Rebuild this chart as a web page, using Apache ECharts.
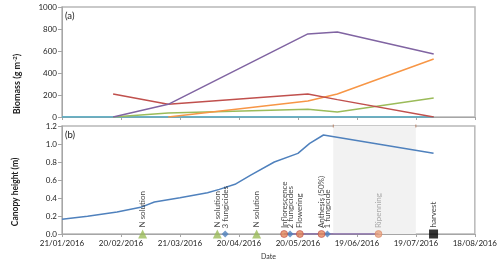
<!DOCTYPE html>
<html><head><meta charset="utf-8">
<script src="https://cdn.jsdelivr.net/npm/echarts@6/dist/echarts.min.js"></script>
<style>html,body{margin:0;padding:0;background:#fff}#c{width:500px;height:263px}</style>
</head><body><div id="c"></div>
<script>
// ---- data ----
const startDate = '2016-01-21';
const endDate = '2016-08-18';
const biomassDates = ['2016-02-16','2016-03-15','2016-05-25','2016-06-09','2016-07-28'];
const purpleVals = [0, 115, 755, 773, 573];
const redVals = [209, 115, 209, 158, 0];
const orangeDates = ['2016-03-15','2016-05-25','2016-06-09','2016-07-28'];
const orangeVals = [0, 145, 209, 527];
const greenVals = [0, 36, 70, 45, 173];
const tealDates = ['2016-01-21','2016-02-16','2016-03-15','2016-05-25','2016-06-09','2016-07-28'];
const tealVals = [0, 0, 0, 0, 0, 0];

const canopyDates = ['2016-01-21','2016-02-03','2016-02-18','2016-03-01','2016-03-08','2016-03-21','2016-04-04','2016-04-10','2016-04-18','2016-04-26','2016-05-08','2016-05-20','2016-05-26','2016-06-02','2016-07-28'];
const canopyVals = [0.165, 0.197, 0.244, 0.296, 0.355, 0.404, 0.459, 0.496, 0.552, 0.655, 0.80, 0.896, 1.007, 1.10, 0.896];

const nDates = ['2016-03-02','2016-04-09','2016-04-29'];
const nLabels = ['N solution','N solution','N solution'];
const fungDates = ['2016-04-13','2016-05-16','2016-06-04'];
const fungLabels = ['3 fungicides','2 fungicides','1 fungicide'];
const phenoDates = ['2016-05-13','2016-05-21','2016-06-01','2016-06-30'];
const phenoLabels = ['Inflorescence','Flowering','Anthesis (50%)','Ripenning'];
const harvestDates = ['2016-07-28'];
const harvestLabels = ['harvest'];
const shadeStart = '2016-06-07';
const shadeEnd = '2016-07-19';

const yTopTicks = {min:0, max:1000, interval:200};
const yBotTicks = {min:0, max:1.2, interval:0.2};

// ---- helpers ----
const DAY = 86400000;
const t0 = Date.parse(startDate + 'T00:00:00Z');
function dn(s){ return Math.round((Date.parse(s + 'T00:00:00Z') - t0)/DAY); }
function fmt(d){
  const dt = new Date(t0 + d*DAY);
  const p = n => (n<10?'0':'')+n;
  return p(dt.getUTCDate())+'/'+p(dt.getUTCMonth()+1)+'/'+dt.getUTCFullYear();
}
function pairs(ds, vs){ return ds.map((d,i)=>[dn(d), vs[i]]); }
const xMax = dn(endDate);

const FONT = 'Lato';
const axisGrey = '#a6a6a6';

function xAxisCfg(gi, showLabels){
  return {
    type:'value', gridIndex:gi, min:0, max:xMax, interval:30,
    axisLine:{show:true, lineStyle:{color:axisGrey, width:1}},
    axisTick:{show:true, inside:false, length:3, lineStyle:{color:axisGrey}},
    splitLine:{show:false},
    axisLabel:{show:showLabels, formatter:fmt, fontFamily:FONT, fontSize:8, color:'#222', margin:5},
    name: showLabels ? 'Date' : '', nameLocation:'middle', nameGap:19,
    nameTextStyle:{fontFamily:FONT, fontSize:7, color:'#333'}
  };
}
function yAxisCfg(gi, t, dec){
  return {
    type:'value', gridIndex:gi, min:t.min, max:t.max, interval:t.interval,
    axisLine:{show:true, lineStyle:{color:axisGrey, width:1}},
    axisTick:{show:true, inside:false, length:4, lineStyle:{color:axisGrey}},
    splitLine:{show:false},
    axisLabel:{fontFamily:FONT, fontSize:8, color:'#222', margin:5,
      formatter: v => dec ? v.toFixed(1) : String(v)}
  };
}
function bioLine(name, ds, vs, color){
  return {name, type:'line', xAxisIndex:0, yAxisIndex:0, data:pairs(ds,vs),
    showSymbol:false, symbol:'none', lineStyle:{color, width:1.5}, itemStyle:{color}, animation:false};
}
function markerSeries(ds, labels, symbol, size, color, border, labelColor){
  return {type:'scatter', xAxisIndex:1, yAxisIndex:1, z:5,
    data: ds.map((d,i)=>({value:[dn(d),0], name:labels[i]})),
    symbol, symbolSize:size,
    itemStyle:{color, borderColor:border, borderWidth: border ? 0.8 : 0},
    label:{show:true, formatter:'{b}', position:'top', distance:2, rotate:90,
      align:'left', verticalAlign:'middle', fontFamily:FONT, fontSize:8,
      color: labelColor},
    animation:false};
}

const chart = echarts.init(document.getElementById('c'), null, {renderer:'canvas'});
chart.setOption({
  animation:false,
  grid:[
    {left:62, top:7, width:413, height:110, show:true, borderColor:'#b8b8b8', borderWidth:1.5, backgroundColor:'transparent'},
    {left:62, top:126, width:413, height:108, show:true, borderColor:'#b8b8b8', borderWidth:1.5, backgroundColor:'transparent'}
  ],
  xAxis:[xAxisCfg(0,false), xAxisCfg(1,true)],
  yAxis:[yAxisCfg(0,yTopTicks,false), yAxisCfg(1,yBotTicks,true)],
  graphic:[
    {type:'text', left:65, top:11, style:{text:'(a)', font:'9.5px Lato', fill:'#222'}},
    {type:'text', left:65, top:130, style:{text:'(b)', font:'9.5px Lato', fill:'#222'}},
    {type:'text', x:17, y:84, rotation:Math.PI/2,
      style:{text:'{b|Biomass (g m}{s|-2}{b|)}', align:'center', verticalAlign:'middle',
        rich:{b:{fontFamily:FONT, fontWeight:'bold', fontSize:9, fill:'#222', verticalAlign:'bottom'},
              s:{fontFamily:FONT, fontWeight:'bold', fontSize:6, fill:'#222', verticalAlign:'top', padding:[0,0,4,0]}}}},
    {type:'text', x:15, y:192, rotation:Math.PI/2,
      style:{text:'Canopy height (m)', align:'center', verticalAlign:'middle',
        font:'bold 8.5px Lato', fill:'#222'}}
  ],
  series:[
    bioLine('teal', tealDates, tealVals, '#4bacc6'),
    bioLine('green', biomassDates, greenVals, '#9bbb59'),
    bioLine('orange', orangeDates, orangeVals, '#f79646'),
    bioLine('red', biomassDates, redVals, '#c0504d'),
    bioLine('purple', biomassDates, purpleVals, '#8064a2'),
    {type:'line', xAxisIndex:1, yAxisIndex:1, data:pairs(canopyDates, canopyVals),
      smooth:false, showSymbol:false, symbol:'none', lineStyle:{color:'#4f81bd', width:1.5}, z:3,
      markArea:{silent:true, itemStyle:{color:'#f2f2f2'}, data:[[{xAxis:dn(shadeStart)},{xAxis:dn(shadeEnd)}]]}},
    {type:'line', xAxisIndex:1, yAxisIndex:1, data:phenoDates.map(d=>[dn(d),0]),
      showSymbol:false, symbol:'none', lineStyle:{color:'#8064a2', width:1.5}, z:4},
    {type:'scatter', xAxisIndex:1, yAxisIndex:1, data:[[dn(shadeStart),yBotTicks.max],[dn(shadeEnd),yBotTicks.max]],
      symbol:'rect', symbolSize:[1,3], itemStyle:{color:'#b07050'}, z:6},
    markerSeries(nDates, nLabels, 'triangle', 9, '#9bbb59', null, '#111'),
    markerSeries(fungDates, fungLabels, 'diamond', 7, '#4f81bd', null, '#111'),
    markerSeries(phenoDates.slice(0,3), phenoLabels.slice(0,3), 'circle', 7, '#e2865a', '#c0504d', '#111'),
    markerSeries(phenoDates.slice(3), phenoLabels.slice(3), 'circle', 7, '#e8a07c', '#d98a6a', '#999'),
    markerSeries(harvestDates, harvestLabels, 'rect', 9, '#000', null, '#111')
  ]
});
</script>
</body></html>
